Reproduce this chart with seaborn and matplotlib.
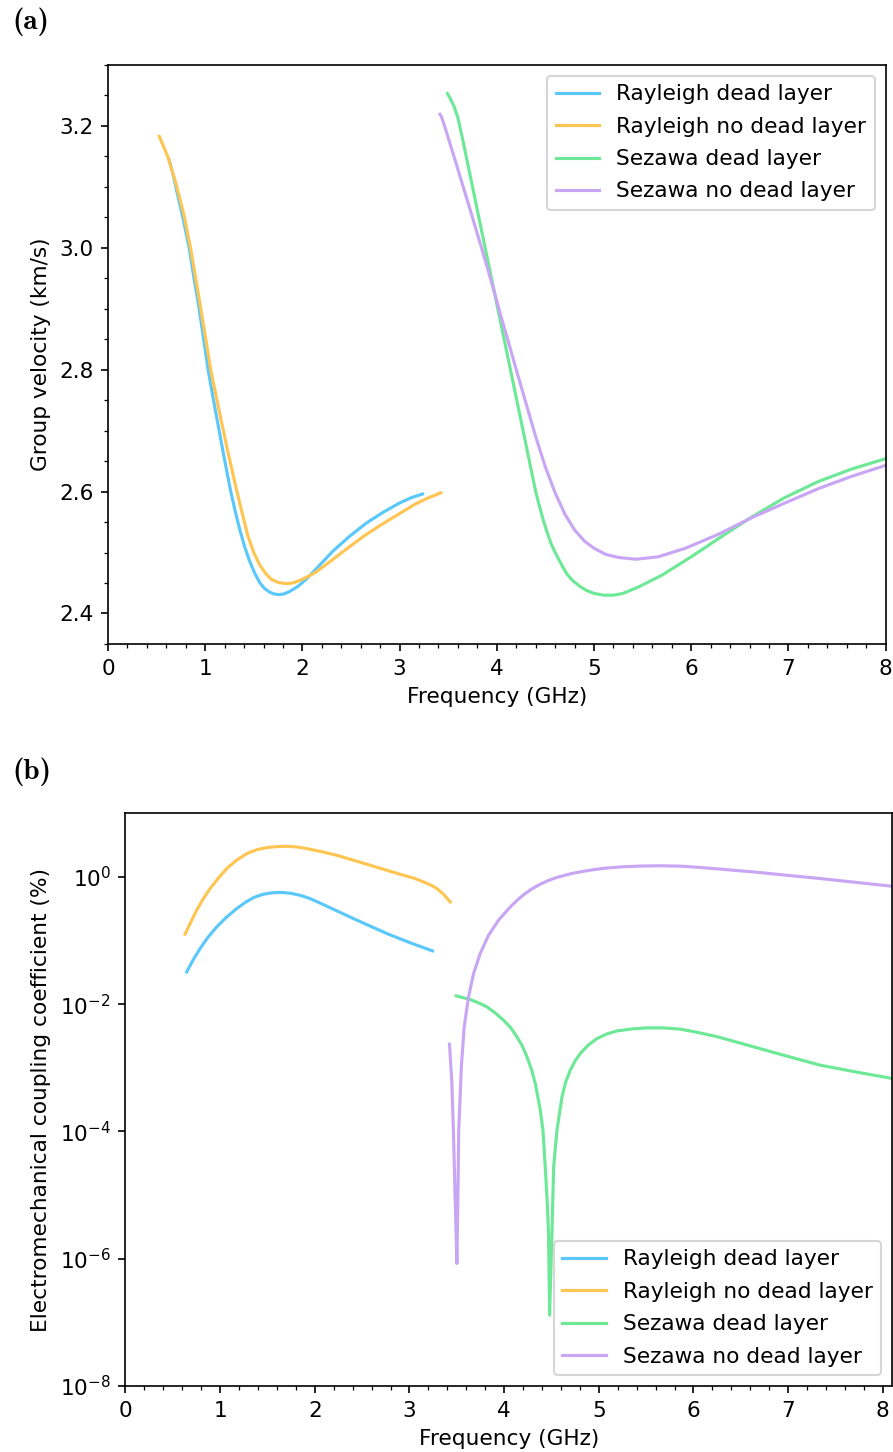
import os
import matplotlib
matplotlib.use("Agg")
import matplotlib.pyplot as plt
from matplotlib.font_manager import FontProperties
from matplotlib.ticker import MultipleLocator, NullLocator
import seaborn as sns

# series names and colours
labels = ["Rayleigh dead layer", "Rayleigh no dead layer",
          "Sezawa dead layer", "Sezawa no dead layer"]
colors = ["#5AC8FA", "#FFC552", "#6DE897", "#C8A6F4"]

# (a) group velocity (km/s) vs frequency (GHz)
f_ray_dead_a = [0.629, 0.67, 0.705, 0.77, 0.835, 0.88, 0.93, 0.98, 1.03, 1.08, 1.132,
                1.19, 1.263, 1.31, 1.355, 1.405, 1.457, 1.51, 1.56, 1.61, 1.663, 1.71,
                1.755, 1.81, 1.868, 1.95, 2.039, 2.17, 2.312, 2.48, 2.655, 2.83, 2.996,
                3.12, 3.236]
v_ray_dead_a = [3.144, 3.12, 3.095, 3.05, 3.0, 2.955, 2.908, 2.855, 2.8, 2.755, 2.71,
                2.66, 2.6, 2.567, 2.538, 2.51, 2.486, 2.466, 2.451, 2.441, 2.435, 2.432,
                2.431, 2.432, 2.436, 2.444, 2.456, 2.478, 2.502, 2.526, 2.548, 2.566,
                2.581, 2.59, 2.596]

f_ray_nodead_a = [0.527, 0.57, 0.619, 0.70, 0.78, 0.849, 0.95, 1.057, 1.15, 1.235, 1.327,
                  1.38, 1.44, 1.50, 1.56, 1.62, 1.68, 1.75, 1.833, 1.90, 1.97, 2.05, 2.14,
                  2.3, 2.48, 2.65, 2.825, 3.0, 3.167, 3.3, 3.424]
v_ray_nodead_a = [3.183, 3.167, 3.148, 3.105, 3.055, 3.0, 2.905, 2.8, 2.728, 2.664, 2.6,
                  2.565, 2.527, 2.5, 2.48, 2.466, 2.456, 2.451, 2.449, 2.45, 2.454, 2.46,
                  2.468, 2.487, 2.509, 2.529, 2.547, 2.564, 2.58, 2.59, 2.598]

f_sez_dead_a = [3.492, 3.52, 3.56, 3.60, 3.65, 3.75, 3.88, 4.01, 4.14, 4.27, 4.40, 4.44,
                4.48, 4.52, 4.56, 4.60, 4.64, 4.68, 4.72, 4.78, 4.85, 4.92, 5.0, 5.1,
                5.2, 5.3, 5.45, 5.70, 6.0, 6.3, 6.62, 6.96, 7.3, 7.65, 8.0]
v_sez_dead_a = [3.253, 3.245, 3.232, 3.213, 3.177, 3.1, 3.0, 2.9, 2.8, 2.7, 2.6, 2.575,
                2.552, 2.532, 2.514, 2.5, 2.488, 2.476, 2.465, 2.454, 2.445, 2.438, 2.433,
                2.43, 2.43, 2.433, 2.443, 2.463, 2.493, 2.525, 2.558, 2.59, 2.616, 2.637,
                2.654]

f_sez_nodead_a = [3.414, 3.43, 3.458, 3.578, 3.715, 3.85, 3.97, 4.04, 4.12, 4.20, 4.30,
                  4.40, 4.50, 4.60, 4.70, 4.80, 4.90, 5.0, 5.12, 5.25, 5.43, 5.66, 5.94,
                  6.28, 6.62, 6.96, 7.31, 7.65, 8.0]
v_sez_nodead_a = [3.219, 3.215, 3.202, 3.14, 3.068, 2.996, 2.93, 2.889, 2.845, 2.80,
                  2.745, 2.69, 2.64, 2.598, 2.563, 2.537, 2.519, 2.507, 2.497, 2.492,
                  2.489, 2.493, 2.507, 2.53, 2.557, 2.581, 2.605, 2.625, 2.643]

# (b) electromechanical coupling coefficient (%) vs frequency (GHz)
f_ray_dead_b = [0.647, 0.717, 0.788, 0.87, 0.964, 1.07, 1.175, 1.27, 1.36, 1.45, 1.55,
                1.65, 1.75, 1.85, 1.95, 2.056, 2.2, 2.408, 2.6, 2.761, 3.0, 3.243]
k_ray_dead_b = [0.0322, 0.0504, 0.075, 0.1122, 0.164, 0.2355, 0.3184, 0.4027, 0.4786,
                0.5333, 0.5649, 0.5715, 0.5521, 0.5129, 0.4571, 0.389, 0.309, 0.2218,
                0.1652, 0.1291, 0.0933, 0.0689]

f_ray_nodead_b = [0.629, 0.69, 0.752, 0.82, 0.893, 0.98, 1.07, 1.17, 1.281, 1.39, 1.493,
                  1.6, 1.704, 1.81, 1.915, 2.07, 2.233, 2.41, 2.585, 2.76, 2.937, 3.05,
                  3.148, 3.23, 3.29, 3.36, 3.43]
k_ray_nodead_b = [0.1259, 0.195, 0.2999, 0.4508, 0.6561, 0.955, 1.355, 1.82, 2.328,
                  2.692, 2.897, 3.006, 3.034, 2.965, 2.793, 2.495, 2.193, 1.828, 1.528,
                  1.274, 1.064, 0.955, 0.8356, 0.7413, 0.6561, 0.5346, 0.4046]

f_sez_dead_b = [3.494, 3.56, 3.642, 3.73, 3.818, 3.90, 3.994, 4.07, 4.135, 4.19, 4.241,
                4.29, 4.329, 4.382, 4.41, 4.434, 4.455, 4.469, 4.48, 4.505, 4.523, 4.558,
                4.611, 4.65, 4.699, 4.75, 4.804, 4.89, 4.981, 5.08, 5.192, 5.35, 5.509,
                5.68, 5.862, 6.05, 6.25, 6.636, 7.0, 7.341, 7.7, 8.1]
k_sez_dead_b = [0.01352, 0.01274, 0.01186, 0.01052, 9.08e-3, 7.41e-3, 5.61e-3, 4.27e-3,
                3.07e-3, 2.24e-3, 1.49e-3, 9.33e-4, 5.68e-4, 2.16e-4, 1.05e-4, 2.79e-5,
                7.94e-6, 2.5e-6, 1.3e-7, 2.5e-6, 2.79e-5, 1.05e-4, 3.5e-4, 6.0e-4,
                9.2e-4, 1.29e-3, 1.68e-3, 2.29e-3, 2.89e-3, 3.39e-3, 3.81e-3, 4.09e-3,
                4.25e-3, 4.25e-3, 4.06e-3, 3.59e-3, 3.09e-3, 2.14e-3, 1.51e-3, 1.10e-3,
                8.71e-4, 6.81e-4]

f_sez_nodead_b = [3.423, 3.448, 3.465, 3.483, 3.501, 3.511, 3.52, 3.548, 3.578, 3.624,
                  3.677, 3.747, 3.835, 3.941, 4.065, 4.135, 4.205, 4.29, 4.38, 4.46, 4.55,
                  4.70, 4.84, 4.96, 5.087, 5.25, 5.44, 5.65, 5.862, 6.05, 6.25, 6.636,
                  7.0, 7.341, 7.7, 8.1]
k_sez_nodead_b = [2.355e-3, 5.69e-4, 9.31e-5, 8.34e-6, 8.45e-7, 8.34e-6, 1.0e-4,
                  1.035e-3, 4.41e-3, 1.303e-2, 3.03e-2, 6.27e-2, 0.1213, 0.209, 0.338,
                  0.4266, 0.5248, 0.6457, 0.7674, 0.871, 0.9772, 1.122, 1.23, 1.312,
                  1.384, 1.445, 1.486, 1.5, 1.479, 1.419, 1.34, 1.2, 1.059, 0.944, 0.828,
                  0.7145]

panel_a = [(f_ray_dead_a, v_ray_dead_a), (f_ray_nodead_a, v_ray_nodead_a),
           (f_sez_dead_a, v_sez_dead_a), (f_sez_nodead_a, v_sez_nodead_a)]
panel_b = [(f_ray_dead_b, k_ray_dead_b), (f_ray_nodead_b, k_ray_nodead_b),
           (f_sez_dead_b, k_sez_dead_b), (f_sez_nodead_b, k_sez_nodead_b)]

plt.rcParams["font.size"] = 10.4
plt.rcParams["legend.labelspacing"] = 0.57

fig = plt.figure(figsize=(893 / 150, 1452 / 150), dpi=150)
ax_a = fig.add_axes([0.1209, 0.5565, 0.8709, 0.3988])
ax_b = fig.add_axes([0.1405, 0.04545, 0.8587, 0.3944])

for (x, y), lab, col in zip(panel_a, labels, colors):
    sns.lineplot(x=x, y=y, ax=ax_a, color=col, label=lab, sort=False,
                 estimator=None, linewidth=1.5)
ax_a.set_xlim(0, 8)
ax_a.set_ylim(2.35, 3.3)
ax_a.xaxis.set_major_locator(MultipleLocator(1))
ax_a.xaxis.set_minor_locator(MultipleLocator(0.2))
ax_a.yaxis.set_major_locator(MultipleLocator(0.2))
ax_a.yaxis.set_minor_locator(MultipleLocator(0.05))
ax_a.set_xlabel("Frequency (GHz)")
ax_a.set_ylabel("Group velocity (km/s)")
ax_a.legend(loc="upper right")

ax_b.set_yscale("log")
for (x, y), lab, col in zip(panel_b, labels, colors):
    sns.lineplot(x=x, y=y, ax=ax_b, color=col, label=lab, sort=False,
                 estimator=None, linewidth=1.5)
ax_b.set_xlim(0, 8.1)
ax_b.set_ylim(1e-8, 1e1)
ax_b.set_yticks([1e-8, 1e-6, 1e-4, 1e-2, 1e0])
ax_b.yaxis.set_minor_locator(NullLocator())
ax_b.xaxis.set_major_locator(MultipleLocator(1))
ax_b.xaxis.set_minor_locator(MultipleLocator(0.2))
ax_b.set_xlabel("Frequency (GHz)")
ax_b.set_ylabel("Electromechanical coupling coefficient (%)")
ax_b.legend(loc="lower right")

# panel letters in Computer Modern bold (ships with matplotlib)
cm_bold = os.path.join(matplotlib.get_data_path(), "fonts", "ttf", "cmb10.ttf")
letter_font = FontProperties(fname=cm_bold, size=14)
fig.text(0.0134, 0.985, "(a)", fontproperties=letter_font, ha="left", va="center")
fig.text(0.0134, 0.4683, "(b)", fontproperties=letter_font, ha="left", va="center")

fig.savefig("out.png", dpi=150)
